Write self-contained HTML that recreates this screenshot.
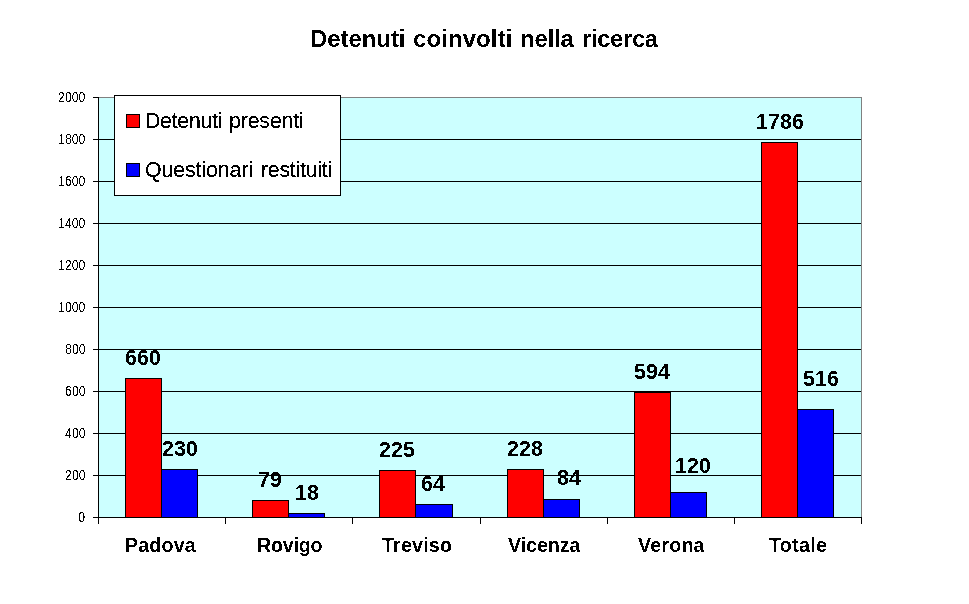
<!DOCTYPE html>
<html><head><meta charset="utf-8"><title>Detenuti coinvolti nella ricerca</title>
<style>
html,body{margin:0;padding:0;background:#fff;}
body{width:969px;height:604px;position:relative;overflow:hidden;font-family:"Liberation Sans",sans-serif;color:#000;}
.r{position:absolute;}
.bar{border:1px solid #000;}
.t{position:absolute;white-space:nowrap;line-height:1;will-change:transform;}
.f50{filter:url(#a50);}
.f33{filter:url(#a33);}
</style></head><body>
<svg width="0" height="0" style="position:absolute"><filter id="a50" x="-5%" y="-40%" width="110%" height="180%"><feComponentTransfer><feFuncA type="discrete" tableValues="0 1"/></feComponentTransfer></filter><filter id="a33" x="-5%" y="-40%" width="110%" height="180%"><feComponentTransfer><feFuncA type="discrete" tableValues="0 0 1 1 1"/></feComponentTransfer></filter></svg>
<div class="r" style="left:98px;top:97px;width:764px;height:421px;background:#CCFFFF;"></div>
<div class="r" style="left:98px;top:97px;width:764px;height:1px;background:#808080;"></div>
<div class="r" style="left:861px;top:97px;width:1px;height:421px;background:#808080;"></div>
<div class="r" style="left:99px;top:139px;width:762px;height:1px;background:#000;"></div>
<div class="r" style="left:99px;top:181px;width:762px;height:1px;background:#000;"></div>
<div class="r" style="left:99px;top:223px;width:762px;height:1px;background:#000;"></div>
<div class="r" style="left:99px;top:265px;width:762px;height:1px;background:#000;"></div>
<div class="r" style="left:99px;top:307px;width:762px;height:1px;background:#000;"></div>
<div class="r" style="left:99px;top:349px;width:762px;height:1px;background:#000;"></div>
<div class="r" style="left:99px;top:391px;width:762px;height:1px;background:#000;"></div>
<div class="r" style="left:99px;top:433px;width:762px;height:1px;background:#000;"></div>
<div class="r" style="left:99px;top:475px;width:762px;height:1px;background:#000;"></div>
<div class="r bar" style="left:125px;top:378px;width:35px;height:138px;background:#FF0000;"></div>
<div class="r bar" style="left:161px;top:469px;width:35px;height:47px;background:#0000FF;"></div>
<div class="r bar" style="left:252px;top:500px;width:35px;height:16px;background:#FF0000;"></div>
<div class="r bar" style="left:288px;top:513px;width:35px;height:3px;background:#0000FF;"></div>
<div class="r bar" style="left:379px;top:470px;width:35px;height:46px;background:#FF0000;"></div>
<div class="r bar" style="left:415px;top:504px;width:36px;height:12px;background:#0000FF;"></div>
<div class="r bar" style="left:507px;top:469px;width:35px;height:47px;background:#FF0000;"></div>
<div class="r bar" style="left:543px;top:499px;width:35px;height:17px;background:#0000FF;"></div>
<div class="r bar" style="left:634px;top:392px;width:35px;height:124px;background:#FF0000;"></div>
<div class="r bar" style="left:670px;top:492px;width:35px;height:24px;background:#0000FF;"></div>
<div class="r bar" style="left:761px;top:142px;width:35px;height:374px;background:#FF0000;"></div>
<div class="r bar" style="left:797px;top:409px;width:35px;height:107px;background:#0000FF;"></div>
<div class="r" style="left:98px;top:97px;width:1px;height:421px;background:#000;"></div>
<div class="r" style="left:98px;top:517px;width:764px;height:1px;background:#000;"></div>
<div class="r" style="left:93px;top:97px;width:5px;height:1px;background:#000;"></div>
<div class="r" style="left:93px;top:139px;width:5px;height:1px;background:#000;"></div>
<div class="r" style="left:93px;top:181px;width:5px;height:1px;background:#000;"></div>
<div class="r" style="left:93px;top:223px;width:5px;height:1px;background:#000;"></div>
<div class="r" style="left:93px;top:265px;width:5px;height:1px;background:#000;"></div>
<div class="r" style="left:93px;top:307px;width:5px;height:1px;background:#000;"></div>
<div class="r" style="left:93px;top:349px;width:5px;height:1px;background:#000;"></div>
<div class="r" style="left:93px;top:391px;width:5px;height:1px;background:#000;"></div>
<div class="r" style="left:93px;top:433px;width:5px;height:1px;background:#000;"></div>
<div class="r" style="left:93px;top:475px;width:5px;height:1px;background:#000;"></div>
<div class="r" style="left:93px;top:517px;width:5px;height:1px;background:#000;"></div>
<div class="r" style="left:98px;top:518px;width:1px;height:6px;background:#000;"></div>
<div class="r" style="left:225px;top:518px;width:1px;height:6px;background:#000;"></div>
<div class="r" style="left:352px;top:518px;width:1px;height:6px;background:#000;"></div>
<div class="r" style="left:480px;top:518px;width:1px;height:6px;background:#000;"></div>
<div class="r" style="left:607px;top:518px;width:1px;height:6px;background:#000;"></div>
<div class="r" style="left:734px;top:518px;width:1px;height:6px;background:#000;"></div>
<div class="r" style="left:861px;top:518px;width:1px;height:6px;background:#000;"></div>
<div class="r" style="left:114px;top:95px;width:225px;height:99px;background:#fff;border:1px solid #000;"></div>
<div class="r" style="left:126px;top:114px;width:12px;height:12px;background:#FF0000;border:1px solid #000;"></div>
<div class="r" style="left:126px;top:163px;width:12px;height:12px;background:#0000FF;border:1px solid #000;"></div>
<div class="t f50" id="t1" style="left:310.0px;top:26.68px;font-size:24px;font-weight:bold;letter-spacing:-0.076px;">Detenuti</div>
<div class="t f50" id="t2" style="left:413.1px;top:26.68px;font-size:24px;font-weight:bold;letter-spacing:0.088px;">coinvolti</div>
<div class="t f50" id="t3" style="left:520.3px;top:26.68px;font-size:24px;font-weight:bold;letter-spacing:-0.18px;">nella</div>
<div class="t f50" id="t4" style="left:582.4px;top:26.68px;font-size:24px;font-weight:bold;letter-spacing:-0.42px;">ricerca</div>
<div class="t f33" id="l1" style="left:144.8px;top:110.94px;font-size:21.33px;font-weight:normal;letter-spacing:-0.284px;">Detenuti</div>
<div class="t f33" id="l2" style="left:229.2px;top:110.94px;font-size:21.33px;font-weight:normal;letter-spacing:-0.153px;">presenti</div>
<div class="t f33" id="l3" style="left:144.8px;top:159.94px;font-size:21.33px;font-weight:normal;letter-spacing:-0.108px;">Questionari</div>
<div class="t f33" id="l4" style="left:260.8px;top:159.94px;font-size:21.33px;font-weight:normal;letter-spacing:-0.26px;">restituiti</div>
<div class="t f50" id="y0" style="left:26px;width:60px;text-align:right;top:90.15px;font-size:14px;font-weight:normal;letter-spacing:0px;"><span style="display:inline-block;transform:translateX(-0.7px) scaleX(0.88);transform-origin:100% 50%;">2000</span></div>
<div class="t f50" id="y1" style="left:26px;width:60px;text-align:right;top:132.15px;font-size:14px;font-weight:normal;letter-spacing:0px;"><span style="display:inline-block;transform:translateX(-0.7px) scaleX(0.88);transform-origin:100% 50%;">1800</span></div>
<div class="t f50" id="y2" style="left:26px;width:60px;text-align:right;top:174.15px;font-size:14px;font-weight:normal;letter-spacing:0px;"><span style="display:inline-block;transform:translateX(-0.7px) scaleX(0.88);transform-origin:100% 50%;">1600</span></div>
<div class="t f50" id="y3" style="left:26px;width:60px;text-align:right;top:216.15px;font-size:14px;font-weight:normal;letter-spacing:0px;"><span style="display:inline-block;transform:translateX(-0.7px) scaleX(0.88);transform-origin:100% 50%;">1400</span></div>
<div class="t f50" id="y4" style="left:26px;width:60px;text-align:right;top:258.15px;font-size:14px;font-weight:normal;letter-spacing:0px;"><span style="display:inline-block;transform:translateX(-0.7px) scaleX(0.88);transform-origin:100% 50%;">1200</span></div>
<div class="t f50" id="y5" style="left:26px;width:60px;text-align:right;top:300.15px;font-size:14px;font-weight:normal;letter-spacing:0px;"><span style="display:inline-block;transform:translateX(-0.7px) scaleX(0.88);transform-origin:100% 50%;">1000</span></div>
<div class="t f50" id="y6" style="left:26px;width:60px;text-align:right;top:342.15px;font-size:14px;font-weight:normal;letter-spacing:0px;"><span style="display:inline-block;transform:translateX(-0.7px) scaleX(0.88);transform-origin:100% 50%;">800</span></div>
<div class="t f50" id="y7" style="left:26px;width:60px;text-align:right;top:384.15px;font-size:14px;font-weight:normal;letter-spacing:0px;"><span style="display:inline-block;transform:translateX(-0.7px) scaleX(0.88);transform-origin:100% 50%;">600</span></div>
<div class="t f50" id="y8" style="left:26px;width:60px;text-align:right;top:426.15px;font-size:14px;font-weight:normal;letter-spacing:0px;"><span style="display:inline-block;transform:translateX(-0.7px) scaleX(0.88);transform-origin:100% 50%;">400</span></div>
<div class="t f50" id="y9" style="left:26px;width:60px;text-align:right;top:468.15px;font-size:14px;font-weight:normal;letter-spacing:0px;"><span style="display:inline-block;transform:translateX(-0.7px) scaleX(0.88);transform-origin:100% 50%;">200</span></div>
<div class="t f50" id="y10" style="left:26px;width:60px;text-align:right;top:510.15px;font-size:14px;font-weight:normal;letter-spacing:0px;"><span style="display:inline-block;transform:translateX(-0.7px) scaleX(0.88);transform-origin:100% 50%;">0</span></div>
<div class="t f50" id="d660" style="left:125px;top:347.94px;font-size:21.33px;font-weight:bold;letter-spacing:0.14px;">660</div>
<div class="t f50" id="d230" style="left:162px;top:438.94px;font-size:21.33px;font-weight:bold;letter-spacing:0.14px;">230</div>
<div class="t f50" id="d79" style="left:258px;top:469.94px;font-size:21.33px;font-weight:bold;letter-spacing:0.14px;">79</div>
<div class="t f50" id="d18" style="left:294.7px;top:482.94px;font-size:21.33px;font-weight:bold;letter-spacing:0.14px;">18</div>
<div class="t f50" id="d225" style="left:378.8px;top:439.94px;font-size:21.33px;font-weight:bold;letter-spacing:0.14px;">225</div>
<div class="t f50" id="d64" style="left:420.6px;top:473.94px;font-size:21.33px;font-weight:bold;letter-spacing:0.14px;">64</div>
<div class="t f50" id="d228" style="left:506.9px;top:438.94px;font-size:21.33px;font-weight:bold;letter-spacing:0.14px;">228</div>
<div class="t f50" id="d84" style="left:556.9px;top:467.94px;font-size:21.33px;font-weight:bold;letter-spacing:0.14px;">84</div>
<div class="t f50" id="d594" style="left:633.8px;top:361.94px;font-size:21.33px;font-weight:bold;letter-spacing:0.14px;">594</div>
<div class="t f50" id="d120" style="left:674.75px;top:455.94px;font-size:21.33px;font-weight:bold;letter-spacing:0.14px;">120</div>
<div class="t f50" id="d1786" style="left:756px;top:111.94px;font-size:21.33px;font-weight:bold;letter-spacing:0.14px;">1786</div>
<div class="t f50" id="d516" style="left:802.9px;top:368.94px;font-size:21.33px;font-weight:bold;letter-spacing:0.14px;">516</div>
<div class="t f50" id="cPadova" style="left:124.7px;top:536.32px;font-size:19.7px;font-weight:bold;letter-spacing:0.144px;">Padova</div>
<div class="t f50" id="cRovigo" style="left:256.8px;top:536.32px;font-size:19.7px;font-weight:bold;letter-spacing:-0.252px;">Rovigo</div>
<div class="t f50" id="cTreviso" style="left:381.7px;top:536.32px;font-size:19.7px;font-weight:bold;letter-spacing:0.18px;">Treviso</div>
<div class="t f50" id="cVicenza" style="left:507.8px;top:536.32px;font-size:19.7px;font-weight:bold;letter-spacing:-0.09px;">Vicenza</div>
<div class="t f50" id="cVerona" style="left:637.9px;top:536.32px;font-size:19.7px;font-weight:bold;letter-spacing:0.18px;">Verona</div>
<div class="t f50" id="cTotale" style="left:768.7px;top:536.32px;font-size:19.7px;font-weight:bold;letter-spacing:0.288px;">Totale</div>
</body></html>
